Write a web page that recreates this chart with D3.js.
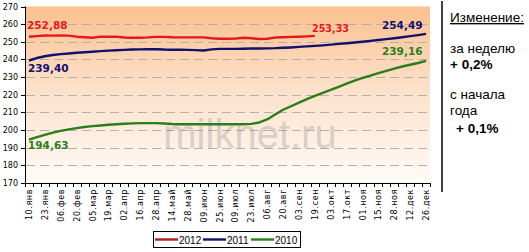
<!DOCTYPE html>
<html>
<head>
<meta charset="utf-8">
<script src="https://cdn.jsdelivr.net/npm/d3@7"></script>
<style>
  body { margin: 0; background: #fff; }
  svg { display: block; }
</style>
</head>
<body>
<div id="chart"></div>
<script>
// weekly categories, every second one is labelled on the axis
const weeks = [
  "10.янв", "16.янв", "23.янв", "30.янв", "06.фев", "13.фев", "20.фев", "27.фев",
  "05.мар", "12.мар", "19.мар", "26.мар", "02.апр", "09.апр", "16.апр", "22.апр",
  "28.апр", "07.май", "14.май", "21.май", "28.май", "04.июн", "09.июн", "18.июн",
  "25.июн", "02.июл", "09.июл", "16.июл", "23.июл", "30.июл", "06.авг", "13.авг",
  "20.авг", "27.авг", "03.сен", "10.сен", "19.сен", "24.сен", "03.окт", "10.окт",
  "17.окт", "24.окт", "01.ноя", "08.ноя", "15.ноя", "21.ноя", "28.ноя", "05.дек",
  "12.дек", "19.дек", "26.дек"
];

const yTicks = [170, 180, 190, 200, 210, 220, 230, 240, 250, 260, 270];

const values2012 = [
  252.88, 253.2, 253.6, 253.5, 253.6, 253.5, 252.9, 252.6, 252.3, 252.9,
  252.9, 252.9, 252.4, 252.3, 252.3, 252.5, 252.8, 252.8, 252.6, 252.5,
  252.5, 252.5, 252.5, 252.0, 251.7, 251.7, 251.8, 252.3, 252.0, 251.6,
  251.7, 252.4, 252.6, 252.8, 252.9, 253.1, 253.33
];
const values2011 = [
  239.40, 240.8, 241.8, 242.5, 243.0, 243.4, 243.8, 244.1, 244.4, 244.7,
  245.0, 245.2, 245.4, 245.6, 245.7, 245.8, 245.8, 245.6, 245.5, 245.5,
  245.4, 245.3, 245.1, 245.7, 246.0, 246.0, 246.0, 246.1, 246.2, 246.2,
  246.3, 246.4, 246.6, 246.8, 247.1, 247.4, 247.7, 248.0, 248.4, 248.8,
  249.2, 249.6, 250.0, 250.5, 251.0, 251.5, 252.0, 252.6, 253.2, 253.8,
  254.49
];
const values2010 = [
  194.63, 196.0, 197.3, 198.5, 199.5, 200.4, 201.1, 201.7, 202.2, 202.6,
  203.0, 203.3, 203.6, 203.8, 203.9, 203.9, 203.9, 203.7, 203.4, 203.3,
  203.3, 203.3, 203.3, 203.3, 203.3, 203.3, 203.3, 203.3, 203.5, 204.3,
  206.0, 208.8, 211.5, 213.5, 215.5, 217.5, 219.3, 221.0, 222.8, 224.5,
  226.3, 228.0, 229.5, 230.8, 232.2, 233.5, 234.8, 236.0, 237.0, 238.0,
  239.16
];

const series = [
  { name: "2012", values: values2012, color: "#e3191c", legend: "#b02020" },
  { name: "2011", values: values2011, color: "#10106e", legend: "#10106e" },
  { name: "2010", values: values2010, color: "#2a7d1c", legend: "#2a7d1c" }
];

const W = 529, H = 252;
const svg = d3.select("#chart").append("svg")
  .attr("width", W)
  .attr("height", H);

const x = d3.scaleBand().domain(weeks).range([25, 430]).padding(0);
const y = d3.scaleLinear().domain([170, 270]).range([183, 6.5]);
const cx = d => x(d) + x.bandwidth() / 2;

// plot background gradient
const grad = svg.append("defs").append("linearGradient")
  .attr("id", "bg").attr("x1", 0).attr("y1", 0).attr("x2", 0).attr("y2", 1);
grad.append("stop").attr("offset", "0%").attr("stop-color", "#fbc08e");
grad.append("stop").attr("offset", "45%").attr("stop-color", "#fde0c8");
grad.append("stop").attr("offset", "100%").attr("stop-color", "#fffbf8");

svg.append("rect")
  .attr("x", 25).attr("y", y(270))
  .attr("width", 405).attr("height", y(170) - y(270))
  .attr("fill", "url(#bg)");

// dashed gridlines
svg.append("g").selectAll("line")
  .data(yTicks.filter(v => v > 170 && v < 270))
  .join("line")
  .attr("x1", 26).attr("x2", 430)
  .attr("y1", d => Math.round(y(d)) + 0.5).attr("y2", d => Math.round(y(d)) + 0.5)
  .attr("stroke", "#b8b0a8")
  .attr("stroke-width", 1)
  .attr("stroke-dasharray", "9,5");

// watermark
svg.append("text")
  .attr("x", 250).attr("y", 148)
  .attr("text-anchor", "middle")
  .attr("font-family", "Liberation Sans, Arial, sans-serif")
  .attr("font-size", 40)
  .attr("fill", "#8a8a8a")
  .attr("opacity", 0.3)
  .text("milknet.ru");

// y axis
svg.append("line")
  .attr("x1", 25.5).attr("x2", 25.5).attr("y1", y(270)).attr("y2", y(170))
  .attr("stroke", "#000");
const yAx = svg.append("g");
yTicks.forEach(v => {
  const yy = Math.round(y(v)) + 0.5;
  yAx.append("line")
    .attr("x1", 21).attr("x2", 25).attr("y1", yy).attr("y2", yy)
    .attr("stroke", "#000");
  yAx.append("text")
    .attr("x", 18).attr("y", yy)
    .attr("text-anchor", "end")
    .attr("dominant-baseline", "middle")
    .attr("font-family", "DejaVu Sans, Verdana, sans-serif")
    .attr("font-size", 8)
    .attr("fill", "#000")
    .text(v);
});

// x axis with ticks between weeks
const xAx = svg.append("g");
xAx.append("line")
  .attr("x1", 25).attr("x2", 430).attr("y1", 183.5).attr("y2", 183.5)
  .attr("stroke", "#000");
const bounds = weeks.map(d => x(d)).concat([x.range()[1]]);
xAx.selectAll(".tk").data(bounds).join("line")
  .attr("x1", d => Math.round(d) + 0.5).attr("x2", d => Math.round(d) + 0.5)
  .attr("y1", 183).attr("y2", 187)
  .attr("stroke", "#000");
xAx.selectAll(".lbl").data(weeks.filter((d, i) => i % 2 === 0)).join("text")
  .attr("transform", d => `translate(${cx(d) + 3},189) rotate(-90)`)
  .attr("text-anchor", "end")
  .attr("font-family", "DejaVu Sans, Verdana, sans-serif")
  .attr("font-size", 8)
  .attr("letter-spacing", 0.6)
  .attr("fill", "#000")
  .text(d => d);

// lines
const line = d3.line()
  .x((v, i) => cx(weeks[i]))
  .y(v => y(v));

series.slice().reverse().forEach(s => {
  svg.append("path")
    .attr("d", line(s.values))
    .attr("fill", "none")
    .attr("stroke", s.color)
    .attr("stroke-width", 2.4)
    .attr("stroke-linejoin", "round");
});

// value labels at first and last points
const labels = [
  { text: "252,88", x: 27, y: 29, color: "#e3191c", size: 10.5 },
  { text: "239,40", x: 28, y: 72, color: "#10106e", size: 10.5 },
  { text: "194,63", x: 28, y: 149, color: "#2a7d1c", size: 10.5 },
  { text: "253,33", x: 312, y: 32, color: "#e3191c", size: 9.6 },
  { text: "254,49", x: 382, y: 29, color: "#10106e", size: 10.5 },
  { text: "239,16", x: 382, y: 55, color: "#2a7d1c", size: 10.5 }
];
svg.append("g").selectAll("text").data(labels).join("text")
  .attr("x", d => d.x).attr("y", d => d.y)
  .attr("font-family", "DejaVu Sans, Verdana, sans-serif")
  .attr("font-weight", "bold")
  .attr("font-size", d => d.size)
  .attr("fill", d => d.color)
  .text(d => d.text);

// legend
const lg = svg.append("g");
lg.append("rect")
  .attr("x", 153.5).attr("y", 231.5).attr("width", 147).attr("height", 16)
  .attr("fill", "#fff").attr("stroke", "#000");
series.forEach((s, i) => {
  const lx = 155 + i * 48;
  lg.append("line")
    .attr("x1", lx).attr("x2", lx + 23).attr("y1", 239.5).attr("y2", 239.5)
    .attr("stroke", s.legend).attr("stroke-width", 2.4);
  lg.append("text")
    .attr("x", lx + 24).attr("y", 243.5)
    .attr("font-family", "Liberation Sans, Arial, sans-serif")
    .attr("font-size", 10)
    .attr("fill", "#000")
    .text(s.name);
});

// side panel
svg.append("line")
  .attr("x1", 442).attr("x2", 442).attr("y1", 1).attr("y2", 192)
  .attr("stroke", "#000").attr("stroke-width", 1.5);

const notes = [
  { text: "Изменение:", x: 450, y: 22, bold: false, underline: true },
  { text: "за неделю", x: 450, y: 53, bold: false },
  { text: "+ 0,2%", x: 450, y: 69, bold: true },
  { text: "с начала", x: 450, y: 99, bold: false },
  { text: "года", x: 450, y: 115, bold: false },
  { text: "+ 0,1%", x: 456, y: 133, bold: true }
];
svg.append("g").selectAll("text").data(notes).join("text")
  .attr("x", d => d.x).attr("y", d => d.y)
  .attr("font-family", "Liberation Sans, Arial, sans-serif")
  .attr("font-size", 13.5)
  .attr("font-weight", d => d.bold ? "bold" : "normal")
  .attr("text-decoration", d => d.underline ? "underline" : null)
  .attr("fill", "#000")
  .text(d => d.text);
</script>
</body>
</html>
